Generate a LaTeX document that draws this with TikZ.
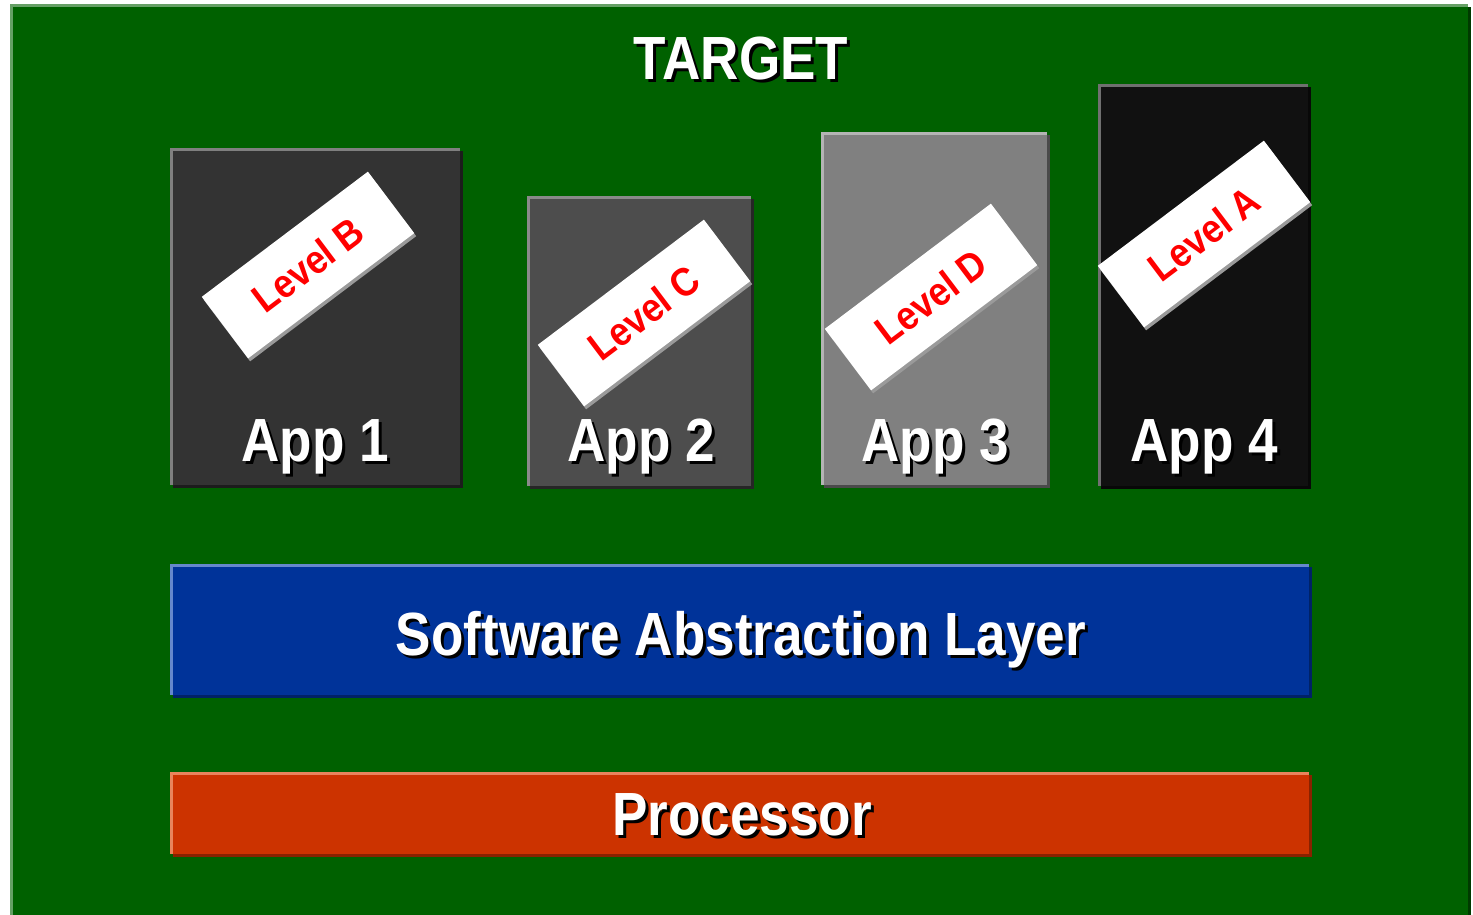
\documentclass[tikz,border=0pt]{standalone}
\usepackage{fontspec}
\usetikzlibrary{shadows,fit}

\newfontfamily\headfont{Liberation Sans}[FakeStretch=0.87]
\newfontfamily\tagfont{Liberation Sans}[FakeStretch=0.9]

\definecolor{boardgreen}{HTML}{006100}
\definecolor{boardhi}{HTML}{66A066}
\definecolor{boardlo}{HTML}{003A00}
\definecolor{appAfill}{HTML}{333333}
\definecolor{appAhi}{HTML}{808080}
\definecolor{appAlo}{HTML}{1C1C1C}
\definecolor{appBfill}{HTML}{4D4D4D}
\definecolor{appBhi}{HTML}{8A8A8A}
\definecolor{appBlo}{HTML}{262626}
\definecolor{appCfill}{HTML}{808080}
\definecolor{appChi}{HTML}{B4B4B4}
\definecolor{appClo}{HTML}{4A4A4A}
\definecolor{appDfill}{HTML}{111111}
\definecolor{appDhi}{HTML}{707070}
\definecolor{appDlo}{HTML}{080808}
\definecolor{salfill}{HTML}{003399}
\definecolor{salhi}{HTML}{6688CC}
\definecolor{sallo}{HTML}{002266}
\definecolor{cpufill}{HTML}{CC3300}
\definecolor{cpuhi}{HTML}{E8845C}
\definecolor{cpulo}{HTML}{882200}
\definecolor{tagshade}{HTML}{9A9A9A}

\tikzset{
  panel/.style n args={3}{fill=#1, inner sep=0pt, outer sep=0pt,
    drop shadow={shadow xshift=1.5pt, shadow yshift=-1.5pt, fill=#3, opacity=1}},
  rim/.style={draw=#1, line width=1.5pt},
  lit text/.style={text=white, inner sep=0pt, anchor=base,
    font=\headfont\bfseries\fontsize{30.5}{34}\selectfont},
  dark text/.style={lit text, text=black, xshift=1.5pt, yshift=-1.5pt},
  tag/.style={fill=white, inner sep=0pt, minimum width=104pt, minimum height=38.5pt,
    rotate=37, text=red, font=\tagfont\bfseries\fontsize{20}{22}\selectfont,
    drop shadow={shadow xshift=1pt, shadow yshift=-1.5pt, fill=tagshade, opacity=1}},
}

% raised panel: name, corners, fill, rim light, shadow
\newcommand\raisedpanel[5]{%
  \node[panel={#3}{#4}{#5}, fit={#2}] (#1) {};
  \draw[rim=#4] ([xshift=0.75pt]#1.south west) -- ([xshift=0.75pt,yshift=-0.75pt]#1.north west)
     -- ([yshift=-0.75pt]#1.north east);
}

% white caption with a black cast shadow
\newcommand\castcaption[3]{%
  \node[dark text] (#1-shade) at (#2) {#3};
  \node[lit text] (#1) at (#2) {#3};
}

\begin{document}
\begin{tikzpicture}[x=0.5pt, y=-0.5pt]
  \useasboundingbox (0,0) rectangle (1473,915);
  \clip (0,0) rectangle (1473,915);
  \fill[white] (0,0) rectangle (1473,915);

  % target board
  \raisedpanel{board}{(10,4) (1468,940)}{boardgreen}{boardhi}{boardlo}
  \castcaption{title}{741,80}{TARGET}

  % applications
  \raisedpanel{app1}{(170,148) (460,485)}{appAfill}{appAhi}{appAlo}
  \raisedpanel{app2}{(527,196) (751,486)}{appBfill}{appBhi}{appBlo}
  \raisedpanel{app3}{(821,132) (1047,485)}{appCfill}{appChi}{appClo}
  \raisedpanel{app4}{(1098,84) (1308,486)}{appDfill}{appDhi}{appDlo}

  \castcaption{app1-name}{315,461}{App 1}
  \castcaption{app2-name}{641,461}{App 2}
  \castcaption{app3-name}{935,461}{App 3}
  \castcaption{app4-name}{1204,461}{App 4}

  % assurance level tags
  \node[tag] (tagB) at (308,265) {Level B};
  \node[tag] (tagC) at (644,313) {Level C};
  \node[tag] (tagD) at (931,297) {Level D};
  \node[tag] (tagA) at (1204,234) {Level A};

  % abstraction layer and processor
  \raisedpanel{sal}{(170,564) (1309,695)}{salfill}{salhi}{sallo}
  \castcaption{sal-name}{741,655}{Software Abstraction Layer}

  \raisedpanel{cpu}{(170,772) (1309,854)}{cpufill}{cpuhi}{cpulo}
  \castcaption{cpu-name}{742,835}{Processor}
\end{tikzpicture}
\end{document}
